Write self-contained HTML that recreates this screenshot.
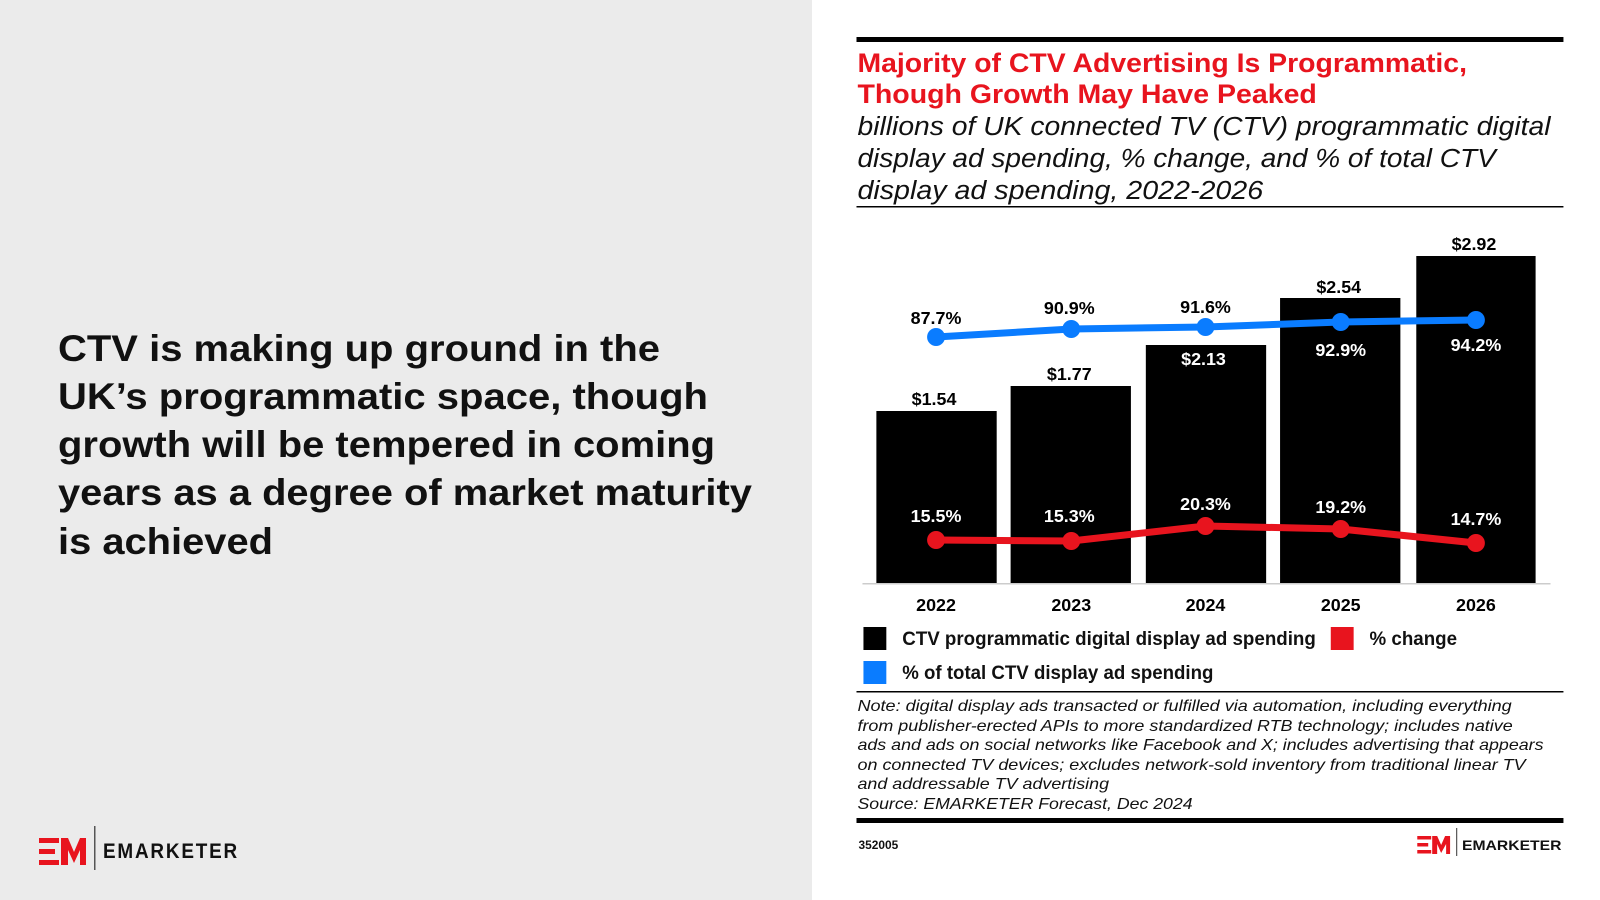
<!DOCTYPE html>
<html><head><meta charset="utf-8"><style>
html,body{margin:0;padding:0;background:#fff}
svg{display:block}
</style></head><body>
<svg width="1600" height="900" viewBox="0 0 1600 900" xmlns="http://www.w3.org/2000/svg" font-family="Liberation Sans, Arial, sans-serif">
<rect x="0" y="0" width="812" height="900" fill="#ebebeb"/>
<g font-size="37" font-weight="bold" fill="#111">
<text x="58" y="361" textLength="602" lengthAdjust="spacingAndGlyphs">CTV is making up ground in the</text>
<text x="58" y="409" textLength="650" lengthAdjust="spacingAndGlyphs">UK’s programmatic space, though</text>
<text x="58" y="457" textLength="657" lengthAdjust="spacingAndGlyphs">growth will be tempered in coming</text>
<text x="58" y="505" textLength="694" lengthAdjust="spacingAndGlyphs">years as a degree of market maturity</text>
<text x="58" y="554" textLength="215" lengthAdjust="spacingAndGlyphs">is achieved</text>
</g>
<g fill="#e8141e">
<rect x="39" y="838" width="20" height="5"/><rect x="39" y="849" width="16" height="5"/><rect x="39" y="860" width="20" height="5"/>
<polygon points="61,838 68,838 74,852 80,838 86,838 86,865 80,865 80,850 74,863 68,850 68,865 61,865"/>
</g>
<rect x="94" y="826" width="1.5" height="44" fill="#555"/>
<text x="103" y="858" font-size="21" font-weight="bold" fill="#111" textLength="136" lengthAdjust="spacingAndGlyphs" letter-spacing="2">EMARKETER</text>

<g transform="translate(0.4,-2) scale(0.9943,1)">
<rect x="861" y="39" width="711" height="5" fill="#000"/>
<g font-size="27" font-weight="bold" fill="#e8141e">
<text x="862" y="74" textLength="613" lengthAdjust="spacingAndGlyphs">Majority of CTV Advertising Is Programmatic,</text>
<text x="862" y="105" textLength="462" lengthAdjust="spacingAndGlyphs">Though Growth May Have Peaked</text>
</g>
<g font-size="26" font-style="italic" fill="#111">
<text x="862" y="137" textLength="697" lengthAdjust="spacingAndGlyphs">billions of UK connected TV (CTV) programmatic digital</text>
<text x="862" y="169" textLength="642" lengthAdjust="spacingAndGlyphs">display ad spending, % change, and % of total CTV</text>
<text x="862" y="201" textLength="408" lengthAdjust="spacingAndGlyphs">display ad spending, 2022-2026</text>
</g>
<rect x="861" y="208" width="711" height="1.5" fill="#000"/>

<g fill="#000">
<rect x="881" y="413" width="121" height="173"/>
<rect x="1016" y="388" width="121" height="198"/>
<rect x="1152" y="347" width="121" height="239"/>
<rect x="1287" y="300" width="121" height="286"/>
<rect x="1424" y="258" width="120" height="328"/>
</g>
<rect x="867" y="585" width="692" height="1.5" fill="#ccc"/>
<polyline points="941,339 1077,331 1212,329 1348,324 1484,322" fill="none" stroke="#0a7cff" stroke-width="7" stroke-linejoin="round"/>
<g fill="#0a7cff"><circle cx="941" cy="339" r="9"/><circle cx="1077" cy="331" r="9"/><circle cx="1212" cy="329" r="9"/><circle cx="1348" cy="324" r="9"/><circle cx="1484" cy="322" r="9"/></g>
<polyline points="941,542 1077,543 1212,528 1348,531 1484,545" fill="none" stroke="#e8141e" stroke-width="7" stroke-linejoin="round"/>
<g fill="#e8141e"><circle cx="941" cy="542" r="9"/><circle cx="1077" cy="543" r="9"/><circle cx="1212" cy="528" r="9"/><circle cx="1348" cy="531" r="9"/><circle cx="1484" cy="545" r="9"/></g>
<g font-size="18" font-weight="bold" text-anchor="middle">
<text x="939" y="407" fill="#000">$1.54</text>
<text x="1075" y="382" fill="#000">$1.77</text>
<text x="1210" y="367" fill="#fff">$2.13</text>
<text x="1346" y="295" fill="#000">$2.54</text>
<text x="1482" y="252" fill="#000">$2.92</text>
<text x="941" y="326" fill="#000">87.7%</text>
<text x="1075" y="316" fill="#000">90.9%</text>
<text x="1212" y="315" fill="#000">91.6%</text>
<text x="1348" y="358" fill="#fff">92.9%</text>
<text x="1484" y="353" fill="#fff">94.2%</text>
<text x="941" y="524" fill="#fff">15.5%</text>
<text x="1075" y="524" fill="#fff">15.3%</text>
<text x="1212" y="512" fill="#fff">20.3%</text>
<text x="1348" y="515" fill="#fff">19.2%</text>
<text x="1484" y="527" fill="#fff">14.7%</text>
<text x="941" y="613" fill="#000">2022</text>
<text x="1077" y="613" fill="#000">2023</text>
<text x="1212" y="613" fill="#000">2024</text>
<text x="1348" y="613" fill="#000">2025</text>
<text x="1484" y="613" fill="#000">2026</text>
</g>
<rect x="868" y="629" width="23" height="23" fill="#000"/>
<rect x="1338" y="629" width="23" height="23" fill="#e8141e"/>
<rect x="868" y="663" width="23" height="23" fill="#0a7cff"/>
<g font-size="19" font-weight="bold" fill="#111">
<text x="907" y="647" textLength="416" lengthAdjust="spacingAndGlyphs">CTV programmatic digital display ad spending</text>
<text x="1377" y="647" textLength="88" lengthAdjust="spacingAndGlyphs">% change</text>
<text x="907" y="681" textLength="313" lengthAdjust="spacingAndGlyphs">% of total CTV display ad spending</text>
</g>
<rect x="861" y="693" width="711" height="1.5" fill="#000"/>
<g font-size="16" font-style="italic" fill="#111">
<text x="862" y="713" textLength="658" lengthAdjust="spacingAndGlyphs">Note: digital display ads transacted or fulfilled via automation, including everything</text>
<text x="862" y="733" textLength="659" lengthAdjust="spacingAndGlyphs">from publisher-erected APIs to more standardized RTB technology; includes native</text>
<text x="862" y="752" textLength="690" lengthAdjust="spacingAndGlyphs">ads and ads on social networks like Facebook and X; includes advertising that appears</text>
<text x="862" y="772" textLength="672" lengthAdjust="spacingAndGlyphs">on connected TV devices; excludes network-sold inventory from traditional linear TV</text>
<text x="862" y="791" textLength="253" lengthAdjust="spacingAndGlyphs">and addressable TV advertising</text>
<text x="862" y="811" textLength="337" lengthAdjust="spacingAndGlyphs">Source: EMARKETER Forecast, Dec 2024</text>
</g>
<rect x="861" y="820" width="711" height="5" fill="#000"/>
<text x="863" y="851" font-size="12" font-weight="bold" fill="#111">352005</text>
<g transform="translate(8,0)">
<g fill="#e8141e">
<rect x="1417" y="838" width="14" height="3.5"/><rect x="1417" y="845" width="11" height="3.5"/><rect x="1417" y="852" width="14" height="3.5"/>
<polygon points="1432,838 1437,838 1441,847 1445,838 1450,838 1450,856 1446,856 1446,846 1441,855 1437,846 1437,856 1432,856"/>
</g>
<rect x="1456" y="830" width="1.2" height="28" fill="#555"/>
<text x="1462" y="852" font-size="14" font-weight="bold" fill="#111" textLength="100" lengthAdjust="spacingAndGlyphs">EMARKETER</text>
</g>
</g>
</svg>
</body></html>
